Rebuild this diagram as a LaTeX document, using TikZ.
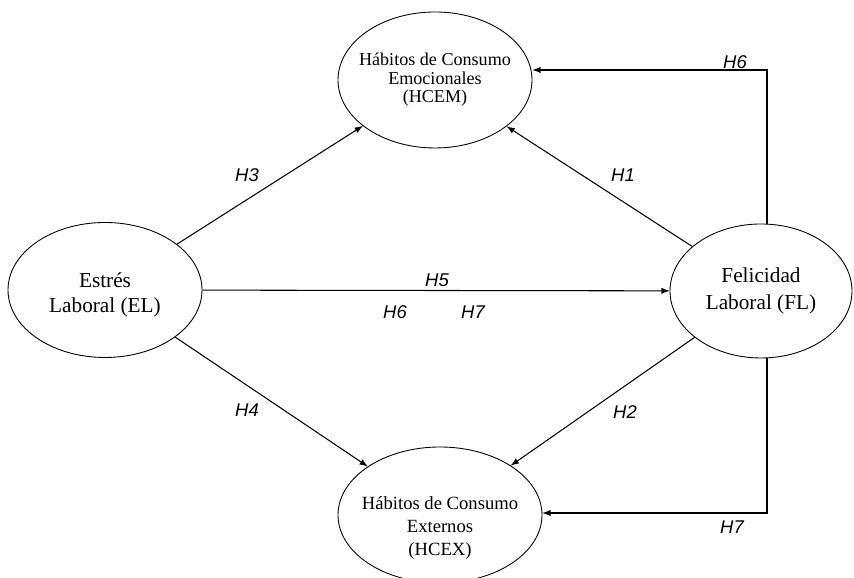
\documentclass[tikz,border=0pt]{standalone}
\usepackage{fontspec}
\setmainfont{Liberation Serif}
\newfontfamily\hypfont{Liberation Sans}
\usetikzlibrary{shapes.geometric}
\tikzset{
  construct/.style={draw,ellipse,line width=0.5pt,align=center,inner ysep=0pt,inner xsep=-0.2cm},
  hyp/.style={font=\hypfont\itshape\fontsize{10.5}{12}\selectfont,inner sep=0pt},
  path/.style={line width=0.6pt,->}
}
\begin{document}
\begin{tikzpicture}[>=latex]
\useasboundingbox (0,0) rectangle (17.08,11.56);
% constructs
\node[construct,font=\fontsize{12.1}{14.4}\selectfont,text height=28pt,minimum width=3.88cm,minimum height=2.7cm] (EL) at (2.1,5.76) {Estrés\\Laboral (EL)};
\node[construct,font=\fontsize{10.3}{10.6}\selectfont,minimum width=3.88cm,minimum height=2.72cm] (HCEM) at (8.7,9.96) {Hábitos de Consumo\\Emocionales\\(HCEM)};
\node[construct,font=\fontsize{12.1}{15}\selectfont,minimum width=3.64cm,minimum height=2.68cm] (FL) at (15.22,5.74) {Felicidad\\Laboral (FL)};
\node[construct,font=\fontsize{10.6}{13}\selectfont,text height=48pt,minimum width=4.08cm,minimum height=2.72cm] (HCEX) at (8.8,1.26) {Hábitos de Consumo\\Externos\\(HCEX)};
\coordinate (c6) at (15.34,10.16);
\coordinate (c7) at (15.34,1.3);
% paths
\draw[path] (EL) -- (HCEM);
\draw[path] (FL) -- (HCEM);
\draw[path] (EL) -- (FL);
\draw[path] (EL) -- (HCEX);
\draw[path] (FL) -- (HCEX);
\draw[path] (FL.north -| c6) -- (c6) -- (c6 -| HCEM.east);
\draw[path] (FL.south -| c7) -- (c7) -- (c7 -| HCEX.east);
% hypotheses
\node[hyp] (h3) at (4.94,8.06) {H3};
\node[hyp] (h1) at (12.46,8.06) {H1};
\node[hyp] (h5) at (8.74,5.96) {H5};
\node[hyp] (h6a) at (7.90,5.32) {H6};
\node[hyp] (h7a) at (9.46,5.32) {H7};
\node[hyp] (h4) at (4.94,3.36) {H4};
\node[hyp] (h2) at (12.5,3.32) {H2};
\node[hyp] (h6b) at (14.7,10.32) {H6};
\node[hyp] (h7b) at (14.64,1.02) {H7};
\end{tikzpicture}
\end{document}
